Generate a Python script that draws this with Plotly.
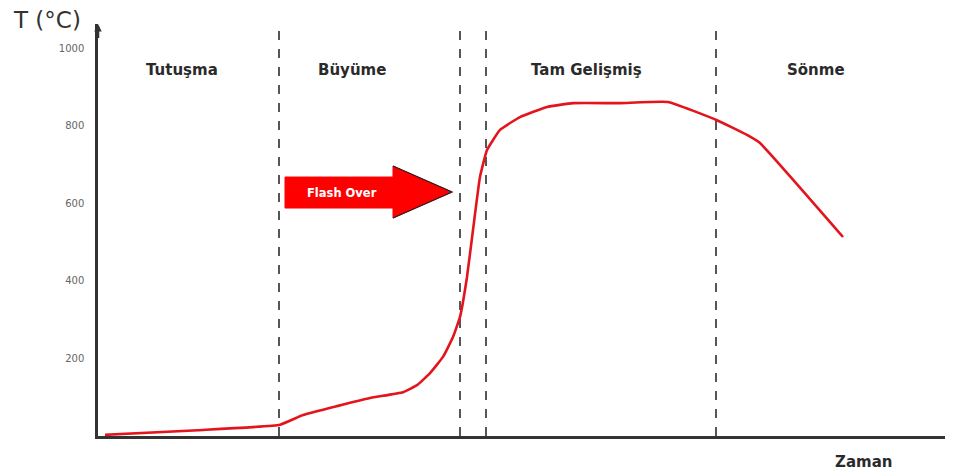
import plotly.graph_objects as go

# --- data (time in arbitrary units, temperature in °C) ---
time = [7, 100, 182, 205, 239, 272, 305, 319, 332, 345, 355, 362, 369, 375, 382, 389, 402, 422, 449, 475, 522, 570, 619, 649, 662, 745]
temp = [3, 15, 29, 54, 77, 98, 113, 131, 162, 204, 255, 307, 410, 531, 668, 737, 789, 822, 848, 858, 858, 861, 814, 776, 755, 513]

phase_bounds = [181, 362, 388, 618]
phase_names = ["Tutuşma", "Büyüme", "Tam Gelişmiş", "Sönme"]
phase_centers = [84, 254, 488, 718]
y_ticks = [200, 400, 600, 800, 1000]

X_MAX = 852
Y_MAX = 1062

fig = go.Figure()
fig.add_trace(go.Scatter(x=time, y=temp, mode="lines",
                         line=dict(color="#e3141c", width=2.6, shape="spline", smoothing=0.35),
                         hoverinfo="skip", showlegend=False))

shapes = []
for b in phase_bounds:
    shapes.append(dict(type="line", xref="x", yref="y", x0=b, x1=b, y0=0, y1=1046,
                       line=dict(color="#555555", width=2, dash="dash"), layer="below"))

# helpers: screen pixel -> data / paper
def px(xp):
    return xp - 98
def py(yp):
    return (436 - yp) / 0.388
def ppx(xp):
    return (xp - 98) / 852
def ppy(yp):
    return (436 - yp) / 412

arrow_pts = [(285, 177), (393, 177), (393, 166), (452, 192), (393, 218), (393, 208), (285, 208)]
path = "M " + " L ".join(f"{px(a)},{py(b)}" for a, b in arrow_pts) + " Z"
shapes.append(dict(type="path", xref="x", yref="y", path=path,
                   fillcolor="#ff0000", line=dict(color="#ff0000", width=1)))
head = [(393, 166), (452, 192), (393, 218)]
hpath = "M " + " L ".join(f"{px(a)},{py(b)}" for a, b in head)
shapes.append(dict(type="path", xref="x", yref="y", path=hpath,
                   line=dict(color="#222222", width=1.2)))

LABEL_FONT = "DejaVu Sans"
annotations = []
for name, c in zip(phase_names, phase_centers):
    annotations.append(dict(x=c, y=py(70), xref="x", yref="y", text=f"<b>{name}</b>",
                            xanchor="center", yanchor="middle",
                            showarrow=False, font=dict(family=LABEL_FONT, size=15, color="#2a2a2a")))
annotations.append(dict(x=px(342), y=py(193), xref="x", yref="y", text="<b>Flash Over</b>",
                        xanchor="center", yanchor="middle",
                        showarrow=False, font=dict(family=LABEL_FONT, size=11.5, color="white")))
annotations.append(dict(x=ppx(47), y=ppy(20), xref="paper", yref="paper", text="T (°C)",
                        xanchor="center", yanchor="middle",
                        showarrow=False, font=dict(family=LABEL_FONT, size=23, color="#333333")))
annotations.append(dict(x=ppx(863), y=ppy(462), xref="paper", yref="paper", text="<b>Zaman</b>",
                        xanchor="center", yanchor="middle",
                        showarrow=False, font=dict(family=LABEL_FONT, size=15, color="#2a2a2a")))
# axis arrow tip
annotations.append(dict(x=0, y=Y_MAX, ax=0, ay=Y_MAX - 40, xref="x", yref="y", axref="x", ayref="y",
                        text="", showarrow=True, arrowhead=2, arrowsize=0.6, arrowwidth=2.5,
                        arrowcolor="#333333"))

fig.update_layout(
    width=953, height=476,
    margin=dict(l=90, r=11, t=16, b=48),
    plot_bgcolor="white", paper_bgcolor="white",
    shapes=shapes, annotations=annotations,
    xaxis=dict(range=[0, X_MAX], showgrid=False, zeroline=False, showticklabels=False,
               showline=True, linecolor="#333333", linewidth=2.5, ticks=""),
    yaxis=dict(range=[0, Y_MAX], showgrid=False, zeroline=False, tickvals=y_ticks,
               ticktext=[str(v) for v in y_ticks], tickfont=dict(size=10, color="#666666", family="DejaVu Sans"),
               showline=True, linecolor="#333333", linewidth=2.5, ticks="", ticklabelstandoff=9),
)
fig.write_html("out.html")
